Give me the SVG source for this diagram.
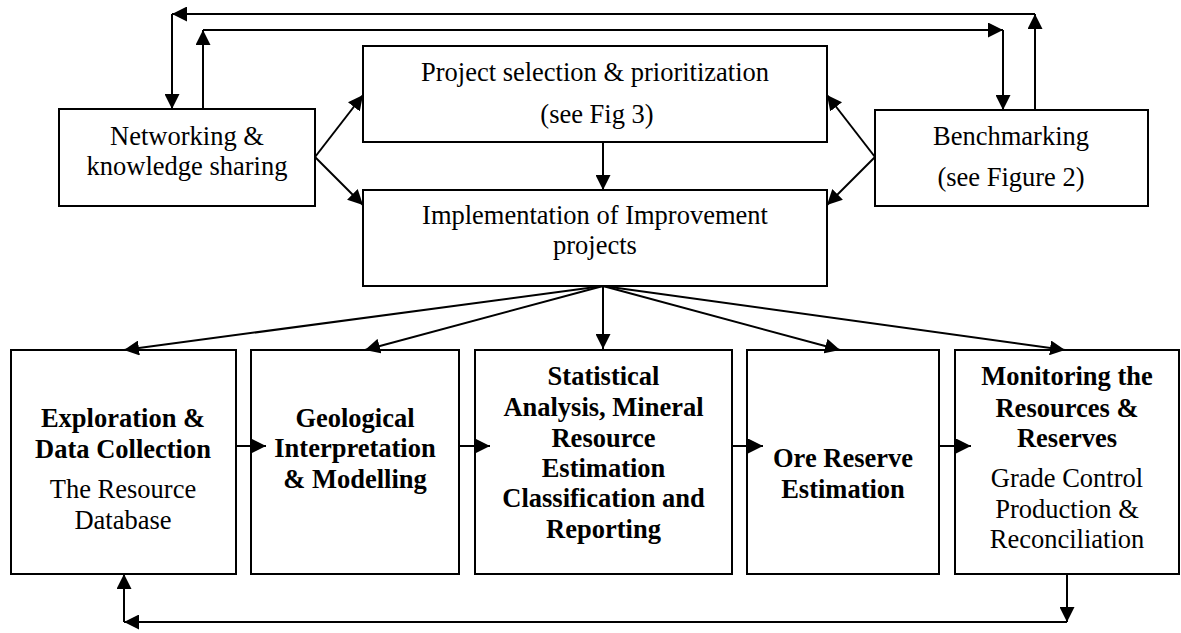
<svg xmlns="http://www.w3.org/2000/svg" width="1181" height="633" viewBox="0 0 1181 633">
<style>
.box{fill:#fff;stroke:#000;stroke-width:2}
.t{font-family:"Liberation Serif","Times New Roman",serif;font-size:26.5px;fill:#000;text-anchor:middle}
.b{font-weight:bold}
.c{fill:none;stroke:#000;stroke-width:2}
.a{marker-end:url(#ah)}
</style>
<defs>
<marker id="ah" markerUnits="userSpaceOnUse" markerWidth="15" markerHeight="15" viewBox="0 0 15 15" refX="15" refY="7.5" orient="auto">
<path d="M0,0 L15,7.5 L0,15 z" fill="#000"/>
</marker>
</defs>
<rect width="1181" height="633" fill="#fff"/>
<g id="net"><rect class="box" x="59" y="109" width="256" height="97"/>
<text class="t" x="187" y="145">Networking &amp;</text>
<text class="t" x="187" y="175">knowledge sharing</text></g>
<g id="proj"><rect class="box" x="363" y="46" width="464" height="96"/>
<text class="t" x="595" y="81">Project selection &amp; prioritization</text>
<text class="t" x="597" y="123">(see Fig 3)</text></g>
<g id="impl"><rect class="box" x="363" y="190" width="464" height="96"/>
<text class="t" x="595" y="224">Implementation of Improvement</text>
<text class="t" x="595" y="254">projects</text></g>
<g id="bench"><rect class="box" x="875" y="110" width="273" height="96"/>
<text class="t" x="1011" y="145">Benchmarking</text>
<text class="t" x="1011" y="186">(see Figure 2)</text></g>
<g id="explo"><rect class="box" x="11" y="350" width="225" height="224"/>
<text class="t b" x="123" y="427">Exploration &amp;</text>
<text class="t b" x="123" y="458">Data Collection</text>
<text class="t" x="123" y="498">The Resource</text>
<text class="t" x="123" y="529">Database</text></g>
<g id="geo"><rect class="box" x="251" y="350" width="208" height="224"/>
<text class="t b" x="355" y="427">Geological</text>
<text class="t b" x="355" y="457">Interpretation</text>
<text class="t b" x="355" y="488">&amp; Modelling</text></g>
<g id="stat"><rect class="box" x="475" y="350" width="257" height="224"/>
<text class="t b" x="603.5" y="385">Statistical</text>
<text class="t b" x="603.5" y="416">Analysis, Mineral</text>
<text class="t b" x="603.5" y="447">Resource</text>
<text class="t b" x="603.5" y="477">Estimation</text>
<text class="t b" x="603.5" y="507">Classification and</text>
<text class="t b" x="603.5" y="538">Reporting</text></g>
<g id="ore"><rect class="box" x="747" y="350" width="192" height="224"/>
<text class="t b" x="843" y="467">Ore Reserve</text>
<text class="t b" x="843" y="498">Estimation</text></g>
<g id="mon"><rect class="box" x="955" y="350" width="224" height="224"/>
<text class="t b" x="1067" y="385">Monitoring the</text>
<text class="t b" x="1067" y="417">Resources &amp;</text>
<text class="t b" x="1067" y="447">Reserves</text>
<text class="t" x="1067" y="487">Grade Control</text>
<text class="t" x="1067" y="518">Production &amp;</text>
<text class="t" x="1067" y="548">Reconciliation</text></g>
<g id="connectors">
<line class="c a" x1="1035" y1="110" x2="1035" y2="14"/>
<line class="c a" x1="1035" y1="14" x2="172" y2="14"/>
<line class="c a" x1="172" y1="14" x2="172" y2="109"/>
<line class="c a" x1="203" y1="109" x2="203" y2="30"/>
<line class="c a" x1="203" y1="30" x2="1003" y2="30"/>
<line class="c a" x1="1003" y1="30" x2="1003" y2="110"/>
<line class="c a" x1="315" y1="157" x2="363" y2="95"/>
<line class="c a" x1="315" y1="157" x2="363" y2="205"/>
<line class="c a" x1="875" y1="157" x2="827" y2="95"/>
<line class="c a" x1="875" y1="157" x2="827" y2="205"/>
<line class="c a" x1="603" y1="142" x2="603" y2="190"/>
<line class="c a" x1="603" y1="286" x2="124" y2="350"/>
<line class="c a" x1="603" y1="286" x2="365" y2="350"/>
<line class="c a" x1="603" y1="286" x2="603" y2="349"/>
<line class="c a" x1="603" y1="286" x2="840" y2="350"/>
<line class="c a" x1="603" y1="286" x2="1065" y2="350"/>
<line class="c a" x1="236" y1="446" x2="266" y2="446"/>
<line class="c a" x1="459" y1="446" x2="490" y2="446"/>
<line class="c a" x1="732" y1="446" x2="763" y2="446"/>
<line class="c a" x1="939" y1="446" x2="971" y2="446"/>
<line class="c a" x1="1067" y1="574" x2="1067" y2="622"/>
<line class="c a" x1="1067" y1="622" x2="124" y2="622"/>
<line class="c a" x1="124" y1="622" x2="124" y2="574"/>
</g>
</svg>
